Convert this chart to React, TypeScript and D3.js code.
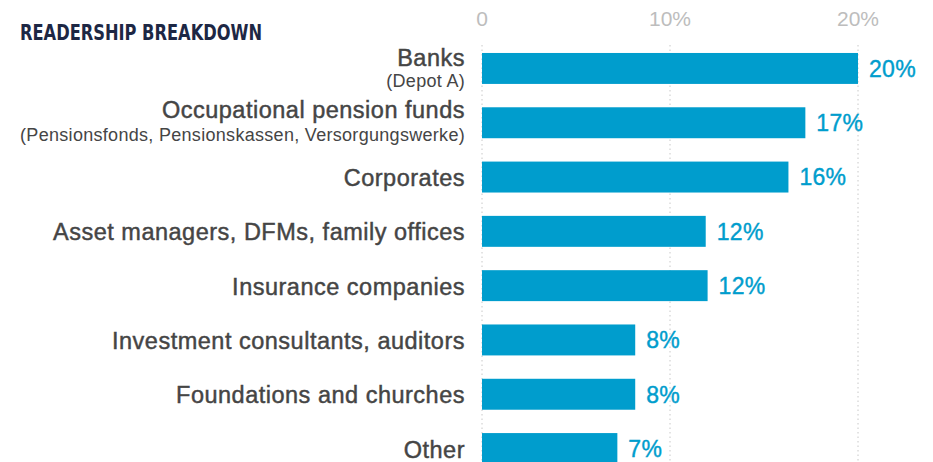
import React, { useEffect, useRef } from 'react';
import * as d3 from 'd3';

const categories = [
  'Banks',
  'Occupational pension funds',
  'Corporates',
  'Asset managers, DFMs, family offices',
  'Insurance companies',
  'Investment consultants, auditors',
  'Foundations and churches',
  'Other'
];
const subLabels = [
  '(Depot A)',
  '(Pensionsfonds, Pensionskassen, Versorgungswerke)',
  '', '', '', '', '', ''
];
const values = [20, 17, 16, 12, 12, 8, 8, 7];
// bar lengths as drawn (slightly off the rounded labels)
const barValues = [20, 17.2, 16.3, 11.9, 12.0, 8.15, 8.15, 7.2];
const ticks = [0, 10, 20];
const tickLabels = ['0', '10%', '20%'];

const width = 933;
const height = 462;
const BLUE = '#009dcd';
const LABEL = '#454545';
const FONT = '"Liberation Sans", Arial, sans-serif';

const App: React.FC = () => {
  const svgRef = useRef<SVGSVGElement | null>(null);

  useEffect(() => {
    if (!svgRef.current) return;
    const svg = d3.select(svgRef.current);
    svg.selectAll('*').remove();

    const x = d3.scaleLinear().domain([0, 20]).range([482, 858]);
    const y = d3.scaleBand<string>()
      .domain(categories)
      .range([41.3, 41.3 + 8 * 54.3])
      .paddingInner(0.43)
      .paddingOuter(0.215);

    // title
    svg.append('text')
      .attr('x', 20)
      .attr('y', 40)
      .attr('font-family', '"Liberation Sans Narrow", "DejaVu Sans Condensed", sans-serif')
      .attr('font-weight', 'bold')
      .attr('font-size', 21)
      .attr('fill', '#1d2744')
      .attr('textLength', 242)
      .attr('lengthAdjust', 'spacingAndGlyphs')
      .text('READERSHIP BREAKDOWN');

    // grid
    svg.append('g')
      .selectAll('line')
      .data(ticks)
      .join('line')
      .attr('x1', d => x(d))
      .attr('x2', d => x(d))
      .attr('y1', 45)
      .attr('y2', height)
      .attr('stroke', '#c8c8c8')
      .attr('stroke-width', 1)
      .attr('stroke-dasharray', '1.5,3');

    svg.append('g')
      .selectAll('text')
      .data(ticks)
      .join('text')
      .attr('x', d => x(d))
      .attr('y', 26)
      .attr('text-anchor', 'middle')
      .attr('font-family', FONT)
      .attr('font-size', 21)
      .attr('fill', '#bdbdbd')
      .text((_, i) => tickLabels[i]);

    // bars
    svg.append('g')
      .selectAll('rect')
      .data(categories)
      .join('rect')
      .attr('x', x(0))
      .attr('y', d => y(d) || 0)
      .attr('width', (_, i) => x(barValues[i]) - x(0))
      .attr('height', y.bandwidth())
      .attr('fill', BLUE);

    // value labels
    svg.append('g')
      .selectAll('text')
      .data(categories)
      .join('text')
      .attr('x', (_, i) => x(barValues[i]) + 11)
      .attr('y', d => (y(d) || 0) + y.bandwidth() / 2)
      .attr('dy', '0.36em')
      .attr('font-family', FONT)
      .attr('font-size', 23)
      .attr('letter-spacing', 0.3)
      .attr('fill', BLUE)
      .attr('stroke', BLUE)
      .attr('stroke-width', 0.4)
      .text((_, i) => `${values[i]}%`);

    // category labels
    const lab = svg.append('g')
      .selectAll('g')
      .data(categories)
      .join('g');

    lab.append('text')
      .attr('x', 465)
      .attr('y', (d, i) => {
        const c = (y(d) || 0) + y.bandwidth() / 2;
        if (!subLabels[i]) return c + 9;
        return i === 0 ? c - 2.5 : c - 4.5;
      })
      .attr('text-anchor', 'end')
      .attr('font-family', FONT)
      .attr('font-size', 23.5)
      .attr('letter-spacing', 0.5)
      .attr('fill', LABEL)
      .attr('stroke', LABEL)
      .attr('stroke-width', 0.45)
      .text(d => d);

    lab.filter((_, i) => subLabels[i] !== '')
      .append('text')
      .attr('x', 465)
      .attr('y', d => (y(d) || 0) + y.bandwidth() / 2 + 18.5)
      .attr('text-anchor', 'end')
      .attr('font-family', FONT)
      .attr('font-size', 18)
      .attr('letter-spacing', 0.3)
      .attr('fill', LABEL)
      .text(d => subLabels[categories.indexOf(d)]);
  }, []);

  return (
    <svg
      ref={svgRef}
      width={width}
      height={height}
      style={{ position: 'absolute', left: 0, top: 0, background: '#fff' }}
    />
  );
};

export default App;
